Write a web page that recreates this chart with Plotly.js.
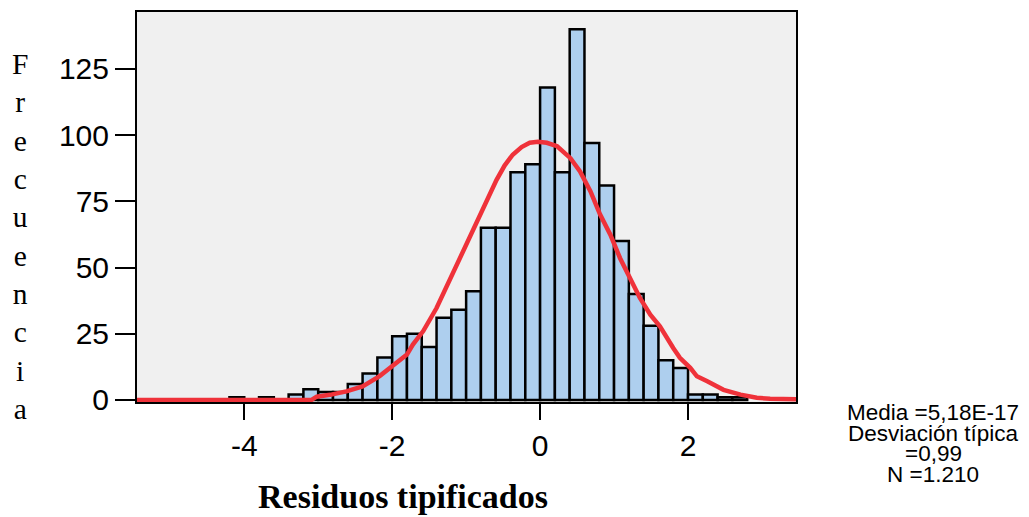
<!DOCTYPE html>
<html>
<head>
<meta charset="utf-8">
<script src="https://cdn.plot.ly/plotly-3.0.1.min.js"></script>
<style>html,body{margin:0;padding:0;background:#fff;}#chart{width:1029px;height:517px;}</style>
</head>
<body>
<div id="chart"></div>
<script>
// Histogram bins (centers, width 0.2) and counts
var binCenters = [-4.1, -3.7, -3.3, -3.1, -2.9, -2.7, -2.5, -2.3, -2.1,
                  -1.9, -1.7, -1.5, -1.3, -1.1, -0.9, -0.7, -0.5, -0.3, -0.1,
                  0.1, 0.3, 0.5, 0.7, 0.9, 1.1, 1.3, 1.5, 1.7, 1.9,
                  2.1, 2.3, 2.5, 2.7];
var counts = [1, 1, 2, 4, 3, 3, 6, 10, 16,
              24, 25, 20, 31, 34, 41, 65, 65, 86, 89,
              118, 86, 140, 97, 81, 60, 40, 28, 15, 12,
              2, 2, 1, 1];

// Fitted normal curve
var curveX = [-5.45, -3.09, -3.02, -2.84, -2.62, -2.40, -2.17, -1.94, -1.80, -1.72,
              -1.58, -1.40, -1.22, -1.08, -0.95, -0.81, -0.70, -0.59, -0.48, -0.37, -0.25, -0.14,
              -0.03, 0.09, 0.23, 0.41, 0.54, 0.68, 0.81, 0.95, 1.08, 1.22, 1.35,
              1.49, 1.62, 1.80, 1.89, 2.03, 2.12, 2.26, 2.48, 2.71, 2.93, 3.11, 3.46];
var curveY = [0, 0, 1.2, 1.9, 3.2, 5.1, 9.0, 14.0, 17.1, 20.9,
              26.0, 34.7, 45.5, 53.6, 62.4, 70.5, 77.0, 83.0, 88.5, 92.6, 95.5, 97.1,
              97.5, 97.1, 95.8, 91.3, 86.3, 78.8, 70.1, 62.4, 53.6, 46.1, 38.5,
              32.2, 27.8, 19.6, 15.9, 12.1, 8.9, 7.0, 3.8, 2.0, 0.8, 0.4, 0.2];

var xTickVals = [-4, -2, 0, 2];
var xTickText = ['-4', '-2', '0', '2'];
var yTickVals = [0, 25, 50, 75, 100, 125];
var yTickText = ['0', '25', '50', '75', '100', '125'];

var statsLines = ['Media =5,18E-17', 'Desviación típica', '=0,99', 'N =1.210'];
var statsY = [-0.026, -0.080, -0.133, -0.185];
var yTitle = 'Frecuencia';
var xTitle = 'Residuos tipificados';

var traces = [
  {
    type: 'bar',
    x: binCenters,
    y: counts,
    width: 0.2,
    base: 0,
    marker: {color: '#aecfee', line: {color: '#000000', width: 2.5}},
    hoverinfo: 'x+y'
  },
  {
    type: 'scatter',
    mode: 'lines',
    x: curveX,
    y: curveY,
    line: {color: '#ef323a', width: 4.5, shape: 'linear'},
    cliponaxis: false,
    hoverinfo: 'skip'
  }
];

var annotations = [];
statsLines.forEach(function (t, i) {
  annotations.push({
    text: t, xref: 'paper', yref: 'paper', x: 1.2079, y: statsY[i],
    xanchor: 'center', yanchor: 'middle', showarrow: false,
    font: {family: 'Liberation Sans, Arial, sans-serif', size: 22.5, color: '#000'}
  });
});
annotations.push({
  text: yTitle.split('').join('<br>'), xref: 'paper', yref: 'paper',
  x: -0.1775, y: 0.425, xanchor: 'center', yanchor: 'middle', showarrow: false,
  font: {family: 'Liberation Serif, Times New Roman, serif', size: 29.5, color: '#000'}
});
annotations.push({
  text: '<b>' + xTitle + '</b>', xref: 'paper', yref: 'paper',
  x: 0.4036, y: -0.242, xanchor: 'center', yanchor: 'middle', showarrow: false,
  font: {family: 'Liberation Serif, Times New Roman, serif', size: 34, color: '#000'}
});

var layout = {
  width: 1029, height: 517,
  margin: {l: 137, r: 233, t: 12, b: 115, pad: 0},
  paper_bgcolor: '#ffffff',
  plot_bgcolor: '#f0f0f0',
  showlegend: false,
  bargap: 0,
  font: {family: 'Liberation Sans, Arial, sans-serif', size: 30, color: '#000'},
  xaxis: {
    range: [-5.45, 3.46], tickvals: xTickVals, ticktext: xTickText,
    ticks: 'outside', ticklen: 16, tickwidth: 2, tickcolor: '#000',
    showline: true, linecolor: '#000', linewidth: 2, mirror: true,
    showgrid: false, zeroline: false, layer: 'below traces',
    tickfont: {size: 30}
  },
  yaxis: {
    range: [-0.8, 146.5], tickvals: yTickVals, ticktext: yTickText,
    ticks: 'outside', ticklen: 20, tickwidth: 2, tickcolor: '#000',
    showline: true, linecolor: '#000', linewidth: 2, mirror: true,
    showgrid: false, zeroline: false, layer: 'below traces',
    tickfont: {size: 30}
  },
  annotations: annotations
};

Plotly.newPlot('chart', traces, layout, {displayModeBar: false, staticPlot: true});
</script>
</body>
</html>
